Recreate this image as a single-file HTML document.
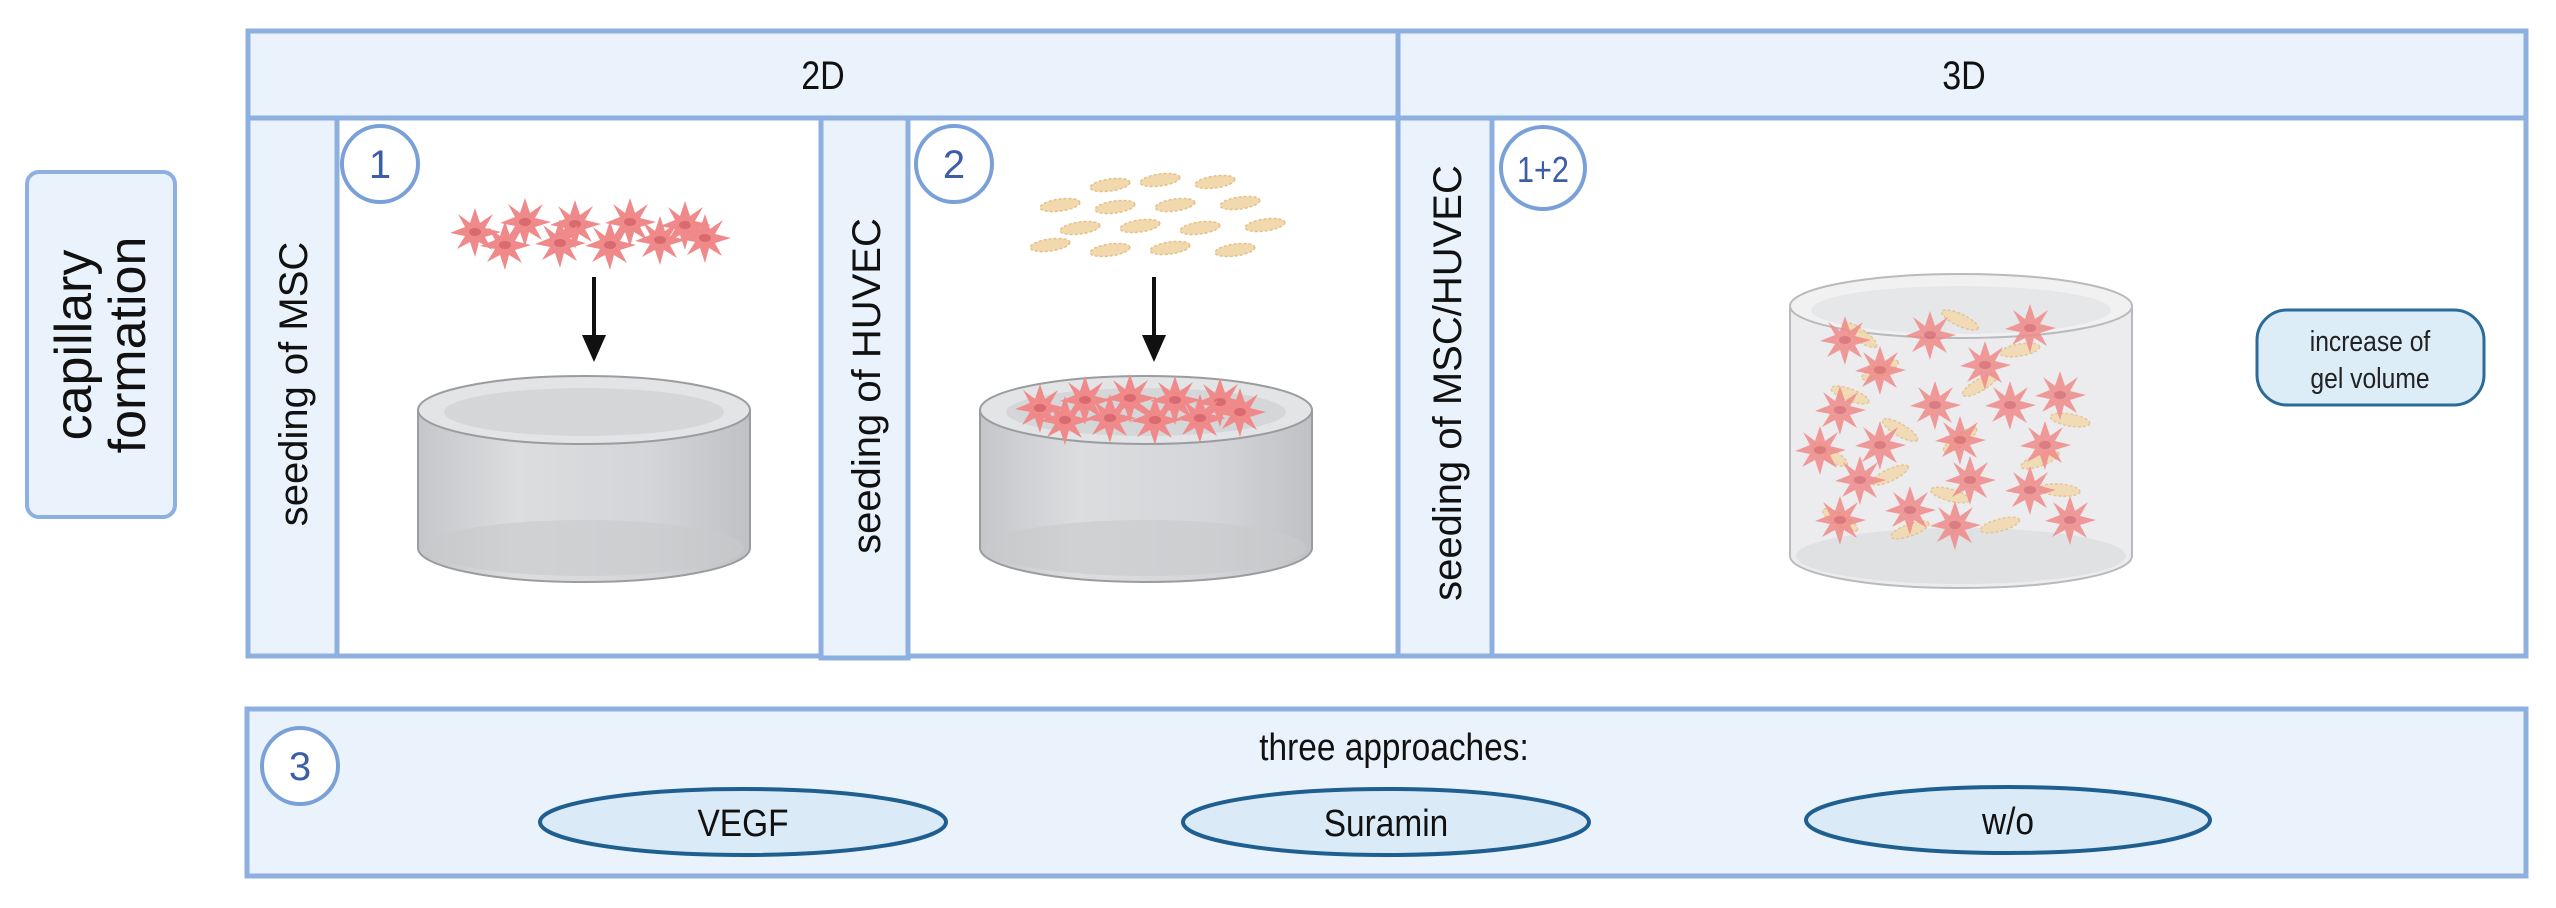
<!DOCTYPE html>
<html><head><meta charset="utf-8"><style>
html,body{margin:0;padding:0;background:#fff;}
svg{display:block;}
text{font-family:"Liberation Sans",sans-serif;}
</style></head><body>
<svg width="2556" height="908" viewBox="0 0 2556 908" xmlns="http://www.w3.org/2000/svg">
<defs>
<polygon id="st" points="0,-24 5,-9 18,-18 10,-4 26,0 10,5 17,18 4,10 0,25 -5,10 -18,17 -10,4 -25,1 -10,-5 -17,-18 -5,-9" fill="#f08a8a"/>
<g id="sc"><use href="#st"/><ellipse cx="0" cy="0" rx="6" ry="4" fill="#d86a70"/></g>
<ellipse id="hv" cx="0" cy="0" rx="20" ry="6" fill="#f2d9ad" stroke="#e3c08a" stroke-width="1.5" stroke-dasharray="3,2"/>
<linearGradient id="cyl" x1="0" x2="1"><stop offset="0" stop-color="#c4c6c9"/><stop offset="0.3" stop-color="#dcdddf"/><stop offset="0.7" stop-color="#d4d5d8"/><stop offset="1" stop-color="#bfc1c4"/></linearGradient>
</defs>

<!-- capillary formation -->
<rect x="27" y="172" width="148" height="345" rx="12" fill="#eaf2fc" stroke="#8eb0e0" stroke-width="4"/>
<text transform="translate(101,345) rotate(-90)" text-anchor="middle" font-size="52" fill="#111"><tspan x="0" y="-10">capillary</tspan><tspan x="0" y="44">formation</tspan></text>

<!-- main box -->
<rect x="248" y="31" width="2278" height="625" fill="#fff" stroke="#8eb0e0" stroke-width="5"/>
<rect x="248" y="31" width="2278" height="87" fill="#eaf2fc" stroke="#8eb0e0" stroke-width="5"/>
<line x1="1398" y1="31" x2="1398" y2="656" stroke="#8eb0e0" stroke-width="5"/>
<text x="823" y="89" text-anchor="middle" font-size="40" fill="#111" transform="translate(823,0) scale(0.85,1) translate(-823,0)">2D</text>
<text x="1964" y="89" text-anchor="middle" font-size="40" fill="#111" transform="translate(1964,0) scale(0.85,1) translate(-1964,0)">3D</text>

<!-- strips -->
<rect x="248" y="118" width="89" height="538" fill="#eaf2fc" stroke="#8eb0e0" stroke-width="5"/>
<rect x="821" y="118" width="87" height="540" fill="#eaf2fc" stroke="#8eb0e0" stroke-width="5"/>
<rect x="1398" y="118" width="94" height="538" fill="#eaf2fc" stroke="#8eb0e0" stroke-width="5"/>
<text transform="translate(307,384) rotate(-90)" text-anchor="middle" font-size="40" fill="#111">seeding of MSC</text>
<text transform="translate(880,386) rotate(-90)" text-anchor="middle" font-size="40" fill="#111">seeding of HUVEC</text>
<text transform="translate(1461,383) rotate(-90)" text-anchor="middle" font-size="40" fill="#111">seeding of MSC/HUVEC</text>

<!-- number circles -->
<g fill="#fff" stroke="#7aa0d8" stroke-width="4">
<ellipse cx="380" cy="164" rx="38" ry="38"/>
<ellipse cx="954" cy="164" rx="38" ry="38"/>
<ellipse cx="1543" cy="168" rx="42" ry="41"/>
</g>
<g fill="#3c5ea8" font-size="40" text-anchor="middle">
<text x="380" y="178">1</text>
<text x="954" y="178">2</text>
<text x="1543" y="182" font-size="36" transform="translate(1543,0) scale(0.85,1) translate(-1543,0)">1+2</text>
</g>

<!-- MSC cells cluster 1 -->
<g>
<use href="#sc" x="475" y="232"/><use href="#sc" x="525" y="222"/><use href="#sc" x="575" y="224"/><use href="#sc" x="630" y="222"/><use href="#sc" x="685" y="225"/>
<use href="#sc" x="505" y="245"/><use href="#sc" x="560" y="243"/><use href="#sc" x="610" y="245"/><use href="#sc" x="660" y="240"/><use href="#sc" x="705" y="238"/>
</g>
<!-- arrow 1 -->
<line x1="594" y1="277" x2="594" y2="340" stroke="#111" stroke-width="4"/>
<polygon points="582,335 606,335 594,362" fill="#111"/>

<!-- cylinder 1 -->
<path d="M418,410 L418,548 A166,34 0 0 0 750,548 L750,410 Z" fill="url(#cyl)" stroke="#9a9c9f" stroke-width="2"/>
<ellipse cx="584" cy="548" rx="160" ry="28" fill="#c8c9cc" opacity="0.6"/>
<ellipse cx="584" cy="410" rx="166" ry="34" fill="#e3e4e6" stroke="#9a9c9f" stroke-width="2"/>
<ellipse cx="584" cy="412" rx="140" ry="24" fill="#d5d6d8"/>

<!-- HUVEC cells -->
<g>
<use href="#hv" transform="translate(1110,185) rotate(-8)"/><use href="#hv" transform="translate(1160,180) rotate(-8)"/><use href="#hv" transform="translate(1215,182) rotate(-8)"/>
<use href="#hv" transform="translate(1060,205) rotate(-8)"/><use href="#hv" transform="translate(1115,207) rotate(-8)"/><use href="#hv" transform="translate(1175,205) rotate(-8)"/><use href="#hv" transform="translate(1240,203) rotate(-8)"/>
<use href="#hv" transform="translate(1080,228) rotate(-8)"/><use href="#hv" transform="translate(1140,226) rotate(-8)"/><use href="#hv" transform="translate(1200,228) rotate(-8)"/><use href="#hv" transform="translate(1265,225) rotate(-8)"/>
<use href="#hv" transform="translate(1050,245) rotate(-8)"/><use href="#hv" transform="translate(1110,250) rotate(-8)"/><use href="#hv" transform="translate(1170,248) rotate(-8)"/><use href="#hv" transform="translate(1235,250) rotate(-8)"/>
</g>
<line x1="1154" y1="277" x2="1154" y2="340" stroke="#111" stroke-width="4"/>
<polygon points="1142,335 1166,335 1154,362" fill="#111"/>

<!-- cylinder 2 -->
<path d="M980,410 L980,548 A166,34 0 0 0 1312,548 L1312,410 Z" fill="url(#cyl)" stroke="#9a9c9f" stroke-width="2"/>
<ellipse cx="1146" cy="548" rx="160" ry="28" fill="#c8c9cc" opacity="0.6"/>
<ellipse cx="1146" cy="410" rx="166" ry="34" fill="#e3e4e6" stroke="#9a9c9f" stroke-width="2"/>
<ellipse cx="1146" cy="412" rx="140" ry="24" fill="#d5d6d8"/>
<g>
<use href="#sc" x="1040" y="408"/><use href="#sc" x="1085" y="400"/><use href="#sc" x="1130" y="398"/><use href="#sc" x="1175" y="400"/><use href="#sc" x="1220" y="402"/>
<use href="#sc" x="1065" y="420"/><use href="#sc" x="1110" y="418"/><use href="#sc" x="1155" y="420"/><use href="#sc" x="1200" y="418"/><use href="#sc" x="1240" y="412"/>
</g>

<!-- 3D cylinder -->
<path d="M1790,308 L1790,556 A171,32 0 0 0 2132,556 L2132,308 Z" fill="#ececee" stroke="#b8babd" stroke-width="2"/>
<ellipse cx="1961" cy="556" rx="165" ry="28" fill="#e0e1e3"/>
<ellipse cx="1961" cy="306" rx="171" ry="32" fill="#f1f1f2" stroke="#b8babd" stroke-width="2"/>
<ellipse cx="1961" cy="310" rx="150" ry="24" fill="#e6e7e8"/>
<g opacity="0.85">
<use href="#hv" transform="translate(1860,335) rotate(35)"/><use href="#hv" transform="translate(1960,320) rotate(25)"/><use href="#hv" transform="translate(1880,370) rotate(-25)"/><use href="#hv" transform="translate(2020,350) rotate(-10)"/>
<use href="#hv" transform="translate(1850,395) rotate(20)"/><use href="#hv" transform="translate(1980,385) rotate(-30)"/><use href="#hv" transform="translate(2070,420) rotate(10)"/><use href="#hv" transform="translate(1900,430) rotate(30)"/>
<use href="#hv" transform="translate(1830,455) rotate(30)"/><use href="#hv" transform="translate(1960,440) rotate(-35)"/><use href="#hv" transform="translate(2040,460) rotate(-20)"/><use href="#hv" transform="translate(1890,475) rotate(-25)"/>
<use href="#hv" transform="translate(1950,495) rotate(15)"/><use href="#hv" transform="translate(2060,490) rotate(5)"/><use href="#hv" transform="translate(1840,520) rotate(30)"/><use href="#hv" transform="translate(1910,530) rotate(-20)"/><use href="#hv" transform="translate(2000,525) rotate(-15)"/>
</g>
<g opacity="0.85">
<use href="#sc" x="1845" y="340"/><use href="#sc" x="1930" y="335"/><use href="#sc" x="2030" y="328"/>
<use href="#sc" x="1880" y="370"/><use href="#sc" x="1985" y="365"/><use href="#sc" x="2060" y="395"/>
<use href="#sc" x="1840" y="410"/><use href="#sc" x="1935" y="405"/><use href="#sc" x="2010" y="405"/>
<use href="#sc" x="1880" y="445"/><use href="#sc" x="1960" y="440"/><use href="#sc" x="2045" y="445"/><use href="#sc" x="1820" y="450"/>
<use href="#sc" x="1860" y="480"/><use href="#sc" x="1970" y="480"/><use href="#sc" x="2030" y="490"/>
<use href="#sc" x="1840" y="520"/><use href="#sc" x="1910" y="510"/><use href="#sc" x="1955" y="525"/><use href="#sc" x="2070" y="520"/>
</g>

<!-- increase box -->
<rect x="2257" y="310" width="227" height="95" rx="30" fill="#dcedf8" stroke="#2a6b9a" stroke-width="3"/>
<g font-size="29" fill="#222" text-anchor="middle" transform="translate(2370,0) scale(0.85,1) translate(-2370,0)">
<text x="2370" y="351">increase of</text>
<text x="2370" y="388">gel volume</text>
</g>

<!-- bottom box -->
<rect x="247" y="709" width="2279" height="167" fill="#eaf2fc" stroke="#8eb0e0" stroke-width="5"/>
<ellipse cx="300" cy="766" rx="38" ry="38" fill="#fff" stroke="#7aa0d8" stroke-width="4"/>
<text x="300" y="780" font-size="40" fill="#3c5ea8" text-anchor="middle">3</text>
<text x="1394" y="760" font-size="38" fill="#111" text-anchor="middle" transform="translate(1394,0) scale(0.88,1) translate(-1394,0)">three approaches:</text>
<g fill="#daeaf7" stroke="#1f5f8f" stroke-width="4">
<ellipse cx="743" cy="822" rx="203" ry="33"/>
<ellipse cx="1386" cy="822" rx="203" ry="33"/>
<ellipse cx="2008" cy="820" rx="202" ry="33"/>
</g>
<g font-size="38" fill="#111" text-anchor="middle">
<text x="743" y="836" transform="translate(743,0) scale(0.88,1) translate(-743,0)">VEGF</text>
<text x="1386" y="836" transform="translate(1386,0) scale(0.88,1) translate(-1386,0)">Suramin</text>
<text x="2008" y="834" transform="translate(2008,0) scale(0.88,1) translate(-2008,0)">w/o</text>
</g>
</svg>
</body></html>
